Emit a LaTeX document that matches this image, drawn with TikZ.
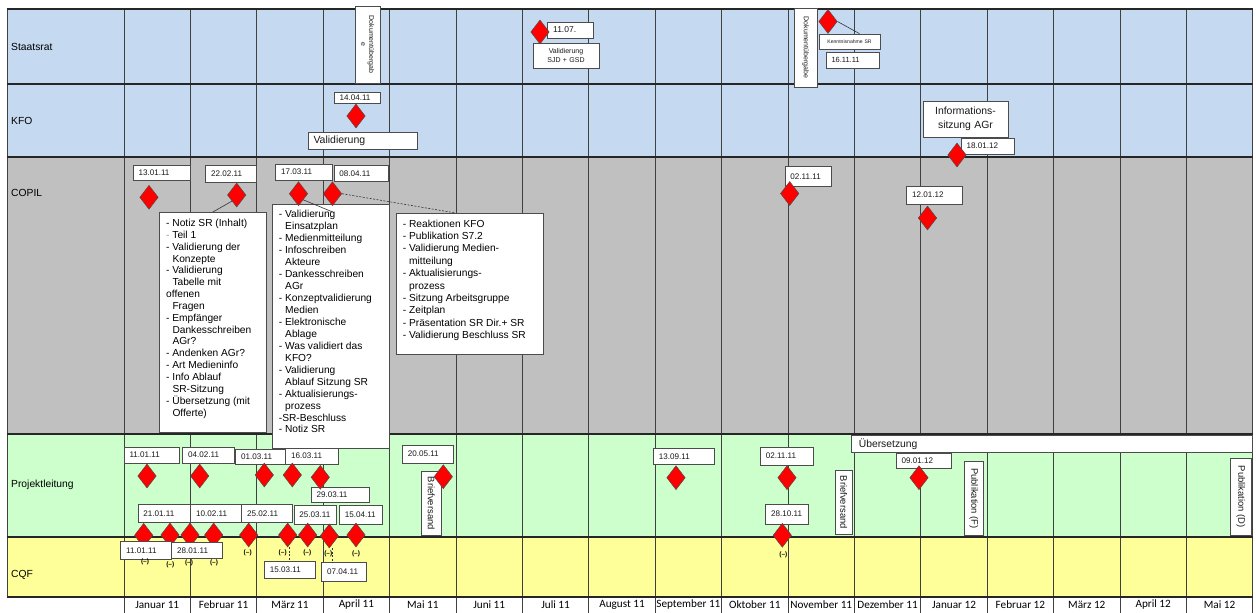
\documentclass[tikz,border=0pt]{standalone}
\usepackage{fontspec}
\setmainfont{Liberation Sans}
\newfontfamily\calfont{Carlito}
\usetikzlibrary{shapes.geometric}
\definecolor{srblue}{RGB}{197,217,241}
\definecolor{copgray}{RGB}{192,192,192}
\definecolor{plgreen}{RGB}{204,255,204}
\definecolor{cqfyellow}{RGB}{255,255,153}
\definecolor{msred}{RGB}{255,0,0}
\newcommand{\fsz}[2]{\fontsize{#1}{#2}\selectfont}
\newcommand{\nind}{\hspace*{6.3pt}}
\tikzset{
  gridv/.style={draw=black!75, line width=0.9pt},
  gridh/.style={draw=black!85, line width=1.2pt},
  rowlabel/.style={anchor=west, inner sep=0pt, font=\fsz{10.3}{12}},
  monthlabel/.style={inner sep=0pt, font=\calfont\fsz{11.2}{13}},
  milestone/.style={diamond, draw=black!70, fill=msred, line width=0.5pt, minimum width=18.5pt, minimum height=24pt, inner sep=0pt},
  datebox/.style={draw=black!70, fill=white, line width=0.7pt, inner ysep=0pt, inner xsep=5.5pt, align=left, font=\fsz{8.1}{9.5}, text=black!90},
  vbox/.style={draw=black!70, fill=white, line width=0.7pt, inner sep=0pt, rotate=-90, align=center, text=black!90},
  notebox/.style={draw=black!70, fill=white, line width=0.7pt, inner sep=0pt, anchor=north west},
  notetext/.style={anchor=north west, inner sep=0pt, align=left, font=\fsz{10.2}{#1}},
  nilmark/.style={inner sep=0pt, font=\bfseries\fsz{6.5}{7}},
  connector/.style={draw=black!80, line width=0.6pt},
  dashconn/.style={connector, dash pattern=on 2pt off 1.5pt}
}
% date box: [opts] name cx cy width height text
\newcommand{\dbox}[7][]{%
  \pgfmathsetmacro{\dbtw}{#5-11}%
  \node[datebox, text width=\dbtw pt, minimum height=#6pt, #1] (#2) at (#3,#4) {#7};}
% rotated box: [opts] name cx cy length across text
\newcommand{\rbox}[7][]{%
  \node[vbox, minimum width=#5pt, minimum height=#6pt, #1] (#2) at (#3,#4) {#7};}

\begin{document}
\begin{tikzpicture}[x=1pt,y=-1pt]
\useasboundingbox (0,0) rectangle (1256,613);
% lane backgrounds
\fill[srblue] (7,9) rectangle (1252.8,157);
\fill[copgray] (7,157) rectangle (1252.8,434);
\fill[plgreen] (7,434) rectangle (1252.8,537);
\fill[cqfyellow] (7,537) rectangle (1252.8,597);
% grid
\foreach \i in {0,...,17} \draw[gridv] ({124+66.4*\i},9) -- ({124+66.4*\i},613);
\draw[gridv] (7,9) -- (7,597);
\foreach \yy in {9,84,157,434,537,597} \draw[gridh] (7,\yy) -- (1252.8,\yy);
% row labels
\node[rowlabel] (lsr) at (11,47) {Staatsrat};
\node[rowlabel] (lkfo) at (11,121) {KFO};
\node[rowlabel] (lcop) at (11,192.5) {COPIL};
\node[rowlabel] (lpl) at (11,485) {Projektleitung};
\node[rowlabel] (lcqf) at (11,575) {CQF};
% month labels
\foreach \m [count=\i from 0] in {Januar 11,Februar 11,März 11,April 11,Mai 11,Juni 11,Juli 11,August 11,September 11,Oktober 11,November 11,Dezember 11,Januar 12,Februar 12,März 12,April 12,Mai 12}
  \node[monthlabel] (month\i) at ({124+66.4*(\i+0.5)},605) {\m};

% rotated boxes
\rbox[font=\fsz{7}{8}]{rd1}{367.5}{44.5}{77}{25}{Dokumentübergab\\e}
\rbox[font=\fsz{7}{8}]{rd2}{805.8}{47.5}{79}{23.7}{Dokumentübergabe}
\rbox[font=\fsz{9.4}{10}]{rb1}{431.3}{503.3}{63.3}{19.3}{Briefversand}
\rbox[font=\fsz{9.4}{10}]{rb2}{843.8}{502.3}{63.3}{17.7}{Briefversand}
\rbox[font=\fsz{9.4}{10}]{rpf}{973.8}{498.5}{73.6}{19}{Publikation (F)}
\rbox[font=\fsz{9.4}{10}]{rpd}{1240.8}{496.8}{77}{20.3}{Publikation (D)}

% Staatsrat boxes
\dbox[font=\fsz{8.5}{9.5}]{s1}{570.3}{30}{45.3}{16}{11.07.}
\dbox[align=center, font=\fsz{7}{9}]{sv}{566}{55.5}{66}{25}{Validierung\\SJD + GSD}
\dbox[align=center, font=\fsz{5.1}{6}]{ken}{849.5}{41.5}{61}{15}{Kenntnisnahme SR}
\dbox[font=\fsz{7.5}{9}]{s16}{852.5}{60}{53}{16}{16.11.11}
% KFO boxes
\dbox{k1}{357}{97.5}{46}{11}{14.04.11}
\dbox[font=\fsz{10.5}{12}]{kval}{362.5}{140.5}{109}{17}{Validierung}
\dbox[align=center, font=\fsz{10.4}{13.5}]{kinf}{965.5}{119}{85}{36}{Informations-\\sitzung AGr}
\dbox{k18}{987.5}{146}{53}{16}{18.01.12}
% COPIL date boxes
\dbox{c13}{161.5}{172.5}{57}{15}{13.01.11}
\dbox{c22}{230.8}{173.8}{50.3}{16.3}{22.02.11}
\dbox{c17}{303.8}{172}{56.3}{16}{17.03.11}
\dbox{c08}{361.3}{173.3}{54.7}{16.7}{08.04.11}
\dbox{c0211}{808.3}{176.3}{46.7}{19.3}{02.11.11}
\dbox{c1201}{934.3}{195}{55.3}{18}{12.01.12}
% COPIL note boxes
\node[notebox, minimum width=107pt, minimum height=220pt] (c1) at (159,212) {};
\node[notetext=11.85] (c1t) at ([xshift=7pt,yshift=-6.9pt]c1.north west) {%
- Notiz SR (Inhalt)\\
{\color{black!40}-} Teil 1\\
- Validierung der\\
\nind Konzepte\\
- Validierung\\
\nind Tabelle mit\\
offenen\\
\nind Fragen\\
- Empfänger\\
\nind Dankesschreiben\\
\nind AGr?\\
- Andenken AGr?\\
- Art Medieninfo\\
- Info Ablauf\\
\nind SR-Sitzung\\
- Übersetzung (mit\\
\nind Offerte)};
\node[notebox, minimum width=117pt, minimum height=244pt] (c2) at (271.7,204) {};
\node[notetext=11.95] (c2t) at ([xshift=7pt,yshift=-6.3pt]c2.north west) {%
- Validierung\\
\nind Einsatzplan\\
- Medienmitteilung\\
- Infoschreiben\\
\nind Akteure\\
- Dankesschreiben\\
\nind AGr\\
- Konzeptvalidierung\\
\nind Medien\\
- Elektronische\\
\nind Ablage\\
- Was validiert das\\
\nind KFO?\\
- Validierung\\
\nind Ablauf Sitzung SR\\
- Aktualisierungs-\\
\nind prozess\\
-SR-Beschluss\\
- Notiz SR};
\node[notebox, minimum width=147.3pt, minimum height=141pt] (c3) at (395.7,213) {};
\node[notetext=12.4] (c3t) at ([xshift=7pt,yshift=-6.5pt]c3.north west) {%
- Reaktionen KFO\\
- Publikation S7.2\\
- Validierung Medien-\\
\nind mitteilung\\
- Aktualisierungs-\\
\nind prozess\\
- Sitzung Arbeitsgruppe\\
- Zeitplan\\
- Präsentation SR Dir.+ SR\\
- Validierung Beschluss SR};

% Projektleitung boxes
\dbox{p1}{151.5}{455}{55}{16}{11.01.11}
\dbox{p2}{208.7}{455}{52}{16}{04.02.11}
\dbox{p3}{260.7}{456.5}{50}{15}{01.03.11}
\dbox{p4}{312.2}{456}{53}{16}{16.03.11}
\dbox{p5}{340}{495.2}{58}{15}{29.03.11}
\dbox{p6}{164.3}{513.3}{52.7}{18.7}{21.01.11}
\dbox{p7}{216.2}{513.3}{51}{18.7}{10.02.11}
\dbox{p8}{267}{513.3}{50.6}{18.7}{25.02.11}
\dbox{p9}{315.3}{515}{42.7}{18.6}{25.03.11}
\dbox{p10}{361}{515}{43.4}{18.6}{15.04.11}
\dbox{p11}{428}{454.2}{51.4}{18.3}{20.05.11}
\dbox{p12}{683.7}{456.3}{60.7}{16}{13.09.11}
\dbox{p13}{786.8}{456.2}{53}{17.7}{02.11.11}
\dbox{p14}{787}{514}{42.6}{20}{28.10.11}
\dbox{p15}{923.5}{460.8}{55}{15}{09.01.12}
\dbox[font=\fsz{10.35}{12}, inner xsep=7pt]{pue}{1052}{443.8}{397.4}{17.7}{Übersetzung}

% milestones
\node[milestone] (sd1) at (540,32) {};
\node[milestone] (sd2) at (828,21.5) {};
\node[milestone] (kd1) at (356,116) {};
\node[milestone] (kd2) at (957,155) {};
\node[milestone] (cd1) at (149,197.3) {};
\node[milestone] (cd2) at (236.7,195) {};
\node[milestone] (cd3) at (298.5,193.7) {};
\node[milestone] (cd4) at (332.5,193.7) {};
\node[milestone] (cd5) at (789.7,193.5) {};
\node[milestone] (cd6) at (927.5,218) {};
\node[milestone] (pd1) at (147,476) {};
\node[milestone] (pd2) at (199.7,476) {};
\node[milestone] (pd3) at (264.3,475) {};
\node[milestone] (pd4) at (292.3,475) {};
\node[milestone] (pd5) at (320.3,477.3) {};
\node[milestone] (pd6) at (443.3,476.7) {};
\node[milestone] (pd7) at (676,477.7) {};
\node[milestone] (pd8) at (787,477.7) {};
\node[milestone] (pd9) at (919,477.7) {};
\node[milestone] (qd1) at (143.7,535.3) {};
\node[milestone] (qd2) at (170,535) {};
\node[milestone] (qd3) at (190,535) {};
\node[milestone] (qd4) at (213.7,535) {};
\node[milestone] (qd5) at (248.7,535) {};
\node[milestone] (qd6) at (287.7,535) {};
\node[milestone] (qd7) at (307.7,535) {};
\node[milestone] (qd8) at (329.3,536) {};
\node[milestone] (qd9) at (356,535) {};
\node[milestone] (qd10) at (782.3,535.3) {};

% CQF boxes
\dbox{q1}{146.2}{550.5}{51}{17.6}{11.01.11}
\dbox{q2}{196.8}{550.3}{50.3}{16}{28.01.11}
\dbox{q3}{289.7}{569.7}{50.7}{17.3}{15.03.11}
\dbox{q4}{344.2}{572.2}{45}{19}{07.04.11}

% (-) marks
\node[nilmark] (m1) at (145,561.7) {(–)};
\node[nilmark] (m2) at (170.3,565) {(–)};
\node[nilmark] (m3) at (189,562.7) {(–)};
\node[nilmark] (m4) at (214,562.7) {(–)};
\node[nilmark] (m5) at (247.7,553.3) {(–)};
\node[nilmark] (m6) at (282.7,553.3) {(–)};
\node[nilmark] (m7) at (307.3,553.3) {(–)};
\node[nilmark] (m8) at (328.3,554.3) {(–)};
\node[nilmark] (m9) at (356,554.3) {(–)};
\node[nilmark] (m10) at (783.3,555.3) {(–)};

% connectors
\draw[connector] (sd2.east) -- ([xshift=10pt]ken.north);
\draw[connector] (cd2.south west) -- (c1.north);
\draw[connector] (cd3.south east) -- ([xshift=61pt,yshift=-8pt]c2.north west);
\draw[dashconn] (cd4.east) -- ([xshift=-14pt]c3.north);
\draw[dashconn] (q3.north |- qd6.south) -- (q3.north);
\draw[dashconn] ([xshift=3pt]qd8.south) -- ([xshift=3pt]qd8.south |- q4.north);
\end{tikzpicture}
\end{document}
